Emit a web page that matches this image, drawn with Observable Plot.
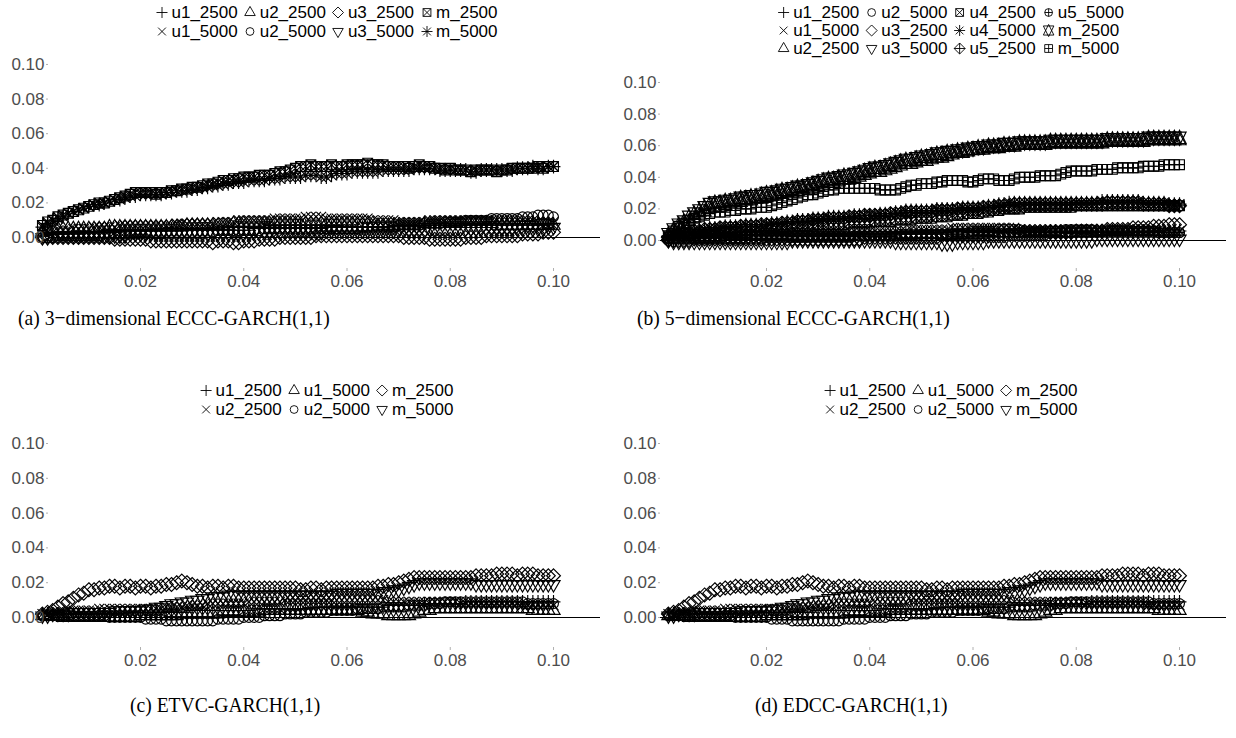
<!DOCTYPE html>
<html><head><meta charset="utf-8">
<script src="https://cdn.jsdelivr.net/npm/d3@7"></script>
<script src="https://cdn.jsdelivr.net/npm/@observablehq/plot@0.6"></script>
<style>
html,body{margin:0;padding:0;background:#fff}
#page{position:relative;width:1236px;height:738px;overflow:hidden;font-family:"Liberation Sans",Arial,sans-serif}
.legend{position:absolute;display:grid;grid-auto-flow:column;column-gap:5px;transform:translateX(-50%);font-size:17px;color:#000;white-space:nowrap}
.item{display:flex;align-items:center;gap:2px;line-height:1}
.item svg{display:block}
.cap{position:absolute;font-family:"Liberation Serif","Times New Roman",serif;font-size:22px;white-space:nowrap;line-height:1;color:#000;transform:scaleX(0.89);transform-origin:0 0}
</style></head><body><div id="page"></div>
<script>
// ---------- shared axis values ----------
const levels = [
.001,.002,.003,.004,.005,.006,.007,.008,.009,.010,
.011,.012,.013,.014,.015,.016,.017,.018,.019,.020,
.021,.022,.023,.024,.025,.026,.027,.028,.029,.030,
.031,.032,.033,.034,.035,.036,.037,.038,.039,.040,
.041,.042,.043,.044,.045,.046,.047,.048,.049,.050,
.051,.052,.053,.054,.055,.056,.057,.058,.059,.060,
.061,.062,.063,.064,.065,.066,.067,.068,.069,.070,
.071,.072,.073,.074,.075,.076,.077,.078,.079,.080,
.081,.082,.083,.084,.085,.086,.087,.088,.089,.090,
.091,.092,.093,.094,.095,.096,.097,.098,.099,.100];
const xTicks = [0.02, 0.04, 0.06, 0.08, 0.10];
const yTicks = [0.00, 0.02, 0.04, 0.06, 0.08, 0.10];

// ---------- panel (a): 3-dimensional ECCC-GARCH(1,1) ----------
const aNames = ["u1_2500","u1_5000","u2_2500","u2_5000","u3_2500","u3_5000","m_2500","m_5000"];
const a_u1_2500 = [
.001,.001,.002,.002,.002,.002,.003,.002,.003,.003,
.003,.003,.003,.004,.003,.004,.004,.004,.004,.004,
.004,.004,.005,.004,.005,.005,.005,.005,.005,.005,
.005,.005,.005,.006,.005,.006,.006,.006,.006,.006,
.006,.006,.006,.006,.007,.006,.007,.007,.007,.007,
.007,.007,.007,.007,.007,.007,.006,.007,.006,.006,
.006,.006,.006,.006,.006,.006,.006,.006,.007,.007,
.007,.007,.007,.007,.008,.007,.008,.008,.008,.008,
.008,.008,.008,.008,.008,.008,.008,.009,.008,.008,
.008,.008,.008,.008,.008,.009,.008,.008,.008,.008];
const a_u1_5000 = [
.002,.003,.003,.004,.004,.004,.005,.005,.005,.005,
.006,.006,.006,.006,.006,.007,.007,.007,.007,.007,
.007,.007,.007,.007,.007,.007,.008,.008,.008,.008,
.008,.008,.008,.008,.009,.009,.009,.009,.010,.010,
.010,.010,.010,.010,.010,.011,.011,.011,.011,.011,
.011,.012,.012,.012,.012,.011,.011,.011,.011,.011,
.011,.011,.011,.011,.010,.010,.010,.010,.010,.009,
.009,.009,.009,.009,.009,.010,.010,.010,.010,.010,
.010,.010,.010,.010,.010,.010,.010,.010,.010,.010,
.010,.010,.010,.010,.010,.010,.009,.009,.009,.009];
const a_u2_2500 = [
.003,.004,.005,.005,.005,.005,.005,.005,.005,.005,
.005,.005,.005,.006,.006,.006,.006,.006,.006,.006,
.006,.006,.006,.006,.006,.006,.006,.006,.007,.007,
.007,.007,.007,.007,.007,.007,.007,.008,.008,.008,
.008,.008,.008,.008,.008,.008,.008,.008,.008,.008,
.008,.008,.008,.008,.008,.008,.008,.008,.008,.008,
.008,.008,.008,.008,.008,.007,.007,.007,.007,.007,
.007,.007,.007,.007,.008,.008,.008,.008,.008,.008,
.008,.008,.008,.008,.008,.008,.008,.008,.007,.007,
.007,.007,.007,.007,.007,.007,.007,.007,.007,.007];
const a_u2_5000 = [
.000,.000,.000,.001,.001,.001,.001,.001,.001,.001,
.001,.001,.002,.002,.002,.002,.002,.002,.002,.002,
.002,.002,.002,.002,.003,.003,.003,.003,.003,.003,
.003,.003,.003,.003,.004,.004,.004,.004,.004,.004,
.004,.004,.004,.005,.005,.005,.005,.005,.005,.005,
.005,.005,.005,.005,.005,.005,.005,.005,.005,.005,
.005,.005,.006,.006,.006,.006,.006,.006,.006,.007,
.007,.007,.007,.007,.008,.008,.008,.008,.009,.009,
.009,.009,.010,.010,.010,.010,.010,.011,.011,.011,
.011,.011,.011,.012,.012,.012,.013,.013,.013,.012];
const a_u3_2500 = [
.000,.000,.000,.000,.000,.000,.000,.000,.000,.000,
.000,.000,.000,.000,-.001,-.001,-.001,-.001,-.001,-.001,
-.001,-.002,-.002,-.002,-.002,-.002,-.002,-.002,-.002,-.002,
-.002,-.002,-.002,-.003,-.002,-.002,-.002,-.003,-.003,-.002,
-.002,-.002,-.001,-.001,-.001,-.001,.000,.000,.000,.000,
.000,.000,.000,.001,.001,.001,.001,.001,.001,.001,
.001,.001,.001,.001,.001,.001,.001,.001,.001,.001,
.000,.000,.000,.000,.000,-.001,-.001,-.001,-.001,-.001,
-.001,-.001,.000,.000,.000,.000,.001,.001,.001,.001,
.001,.001,.001,.002,.002,.002,.002,.003,.003,.003];
const a_u3_5000 = [
.000,.000,.001,.001,.001,.001,.001,.001,.001,.001,
.001,.001,.001,.001,.001,.001,.001,.002,.002,.002,
.002,.002,.002,.002,.002,.002,.002,.002,.002,.002,
.002,.002,.002,.002,.002,.002,.002,.002,.002,.002,
.002,.003,.003,.003,.003,.003,.003,.003,.003,.003,
.003,.003,.003,.003,.003,.004,.004,.004,.004,.004,
.004,.004,.004,.004,.004,.004,.004,.004,.004,.004,
.004,.004,.004,.004,.004,.005,.005,.005,.005,.005,
.005,.005,.005,.005,.005,.005,.005,.005,.005,.005,
.005,.005,.005,.005,.005,.005,.005,.005,.006,.006];
const a_m_2500 = [
.007,.009,.010,.012,.013,.014,.015,.016,.017,.018,
.019,.020,.020,.021,.022,.023,.024,.025,.026,.026,
.026,.026,.025,.026,.026,.027,.027,.028,.028,.029,
.029,.030,.031,.031,.032,.033,.033,.034,.034,.035,
.035,.035,.036,.036,.036,.037,.038,.038,.039,.040,
.041,.041,.042,.041,.041,.041,.042,.041,.041,.042,
.042,.042,.042,.043,.042,.042,.042,.041,.041,.041,
.041,.040,.041,.042,.041,.041,.040,.040,.039,.040,
.039,.039,.039,.038,.039,.039,.039,.039,.038,.039,
.039,.040,.040,.040,.040,.040,.041,.040,.041,.041];
const a_m_5000 = [
.006,.008,.010,.011,.012,.014,.015,.016,.017,.018,
.019,.019,.020,.021,.022,.022,.023,.024,.024,.025,
.025,.025,.025,.025,.026,.026,.027,.027,.027,.028,
.028,.029,.029,.030,.030,.031,.031,.032,.032,.032,
.033,.033,.033,.033,.034,.034,.034,.035,.035,.035,
.035,.036,.036,.036,.035,.035,.036,.037,.037,.037,
.038,.038,.038,.038,.038,.038,.039,.039,.039,.039,
.039,.039,.040,.040,.040,.040,.040,.039,.039,.039,
.039,.039,.039,.038,.038,.039,.039,.039,.039,.039,
.039,.039,.040,.040,.040,.041,.040,.040,.041,.041];
const aValues = [a_u1_2500,a_u1_5000,a_u2_2500,a_u2_5000,a_u3_2500,a_u3_5000,a_m_2500,a_m_5000];

// ---------- panel (b): 5-dimensional ECCC-GARCH(1,1) ----------
const bNames = ["u1_2500","u1_5000","u2_2500","u2_5000","u3_2500","u3_5000","u4_2500","u4_5000","u5_2500","u5_5000","m_2500","m_5000"];
const b_u1_2500 = [
.000,.000,.001,.001,.001,.001,.002,.002,.002,.002,
.002,.002,.002,.002,.002,.002,.003,.003,.003,.003,
.003,.003,.003,.003,.003,.003,.003,.003,.004,.004,
.004,.004,.004,.004,.004,.004,.004,.004,.004,.004,
.004,.004,.004,.004,.005,.005,.005,.005,.005,.005,
.005,.005,.005,.005,.005,.006,.006,.006,.006,.006,
.006,.006,.006,.006,.006,.006,.006,.006,.006,.006,
.006,.006,.006,.006,.006,.006,.006,.006,.006,.006,
.006,.006,.006,.006,.006,.006,.006,.006,.006,.006,
.006,.006,.006,.006,.006,.006,.006,.006,.006,.006];
const b_u1_5000 = [
.002,.003,.003,.003,.004,.004,.004,.004,.004,.004,
.004,.004,.004,.004,.004,.005,.005,.005,.005,.005,
.005,.005,.005,.005,.005,.005,.005,.005,.005,.005,
.005,.005,.005,.005,.005,.006,.006,.006,.006,.006,
.006,.006,.006,.006,.006,.006,.006,.007,.007,.007,
.007,.007,.007,.007,.007,.008,.008,.008,.008,.008,
.008,.008,.008,.008,.008,.008,.008,.008,.007,.007,
.007,.007,.007,.007,.007,.007,.007,.007,.007,.007,
.007,.007,.007,.007,.007,.007,.007,.007,.007,.007,
.007,.007,.007,.007,.007,.007,.006,.006,.006,.006];
const b_u2_2500 = [
.003,.006,.008,.010,.012,.014,.016,.018,.020,.021,
.021,.022,.023,.023,.024,.025,.025,.026,.026,.027,
.028,.028,.029,.030,.030,.031,.032,.032,.033,.034,
.035,.036,.036,.037,.038,.038,.039,.040,.041,.042,
.043,.043,.044,.045,.046,.047,.048,.048,.049,.050,
.050,.051,.052,.052,.053,.054,.055,.055,.056,.057,
.057,.057,.058,.058,.058,.059,.059,.059,.060,.060,
.060,.060,.060,.060,.061,.061,.061,.061,.061,.061,
.061,.061,.061,.061,.061,.062,.062,.062,.062,.062,
.062,.062,.062,.063,.063,.063,.063,.063,.063,.063];
const b_u2_5000 = [
.000,.001,.001,.001,.001,.001,.001,.001,.001,.001,
.001,.001,.001,.001,.001,.001,.001,.001,.001,.002,
.002,.002,.002,.002,.002,.002,.002,.002,.002,.002,
.002,.002,.002,.002,.002,.002,.003,.003,.003,.003,
.003,.003,.003,.003,.003,.003,.003,.003,.003,.004,
.004,.004,.004,.004,.004,.005,.005,.005,.005,.006,
.006,.006,.006,.006,.007,.007,.007,.007,.007,.006,
.006,.006,.006,.006,.006,.006,.006,.007,.007,.007,
.007,.007,.007,.006,.006,.006,.006,.006,.006,.006,
.006,.006,.006,.006,.006,.005,.005,.005,.005,.005];
const b_u3_2500 = [
.000,.000,.000,.000,.000,.001,.001,.001,.001,.001,
.001,.001,.001,.001,.001,.001,.001,.001,.001,.001,
.001,.001,.001,.001,.001,.001,.001,.001,.001,.001,
.001,.001,.001,.001,.001,.001,.001,.001,.002,.002,
.002,.002,.002,.002,.002,.002,.002,.002,.002,.002,
.002,.002,.002,.003,.003,.003,.003,.003,.003,.003,
.003,.003,.003,.003,.003,.003,.004,.004,.004,.004,
.004,.004,.004,.004,.005,.005,.005,.005,.005,.006,
.006,.006,.006,.006,.006,.007,.007,.007,.007,.007,
.008,.008,.008,.008,.009,.009,.009,.010,.010,.010];
const b_u3_5000 = [
.000,-.001,-.001,-.001,-.001,-.001,-.001,-.001,-.001,-.001,
-.001,-.001,-.001,-.001,-.001,-.001,-.001,-.001,-.001,-.001,
-.001,-.001,-.001,-.001,.000,.000,.000,.000,.000,.000,
.000,.000,.000,.000,.000,.000,.000,.000,.000,.000,
.000,.000,.000,.000,-.001,-.001,-.001,-.001,-.001,-.001,
-.001,-.001,-.001,-.002,-.002,-.002,-.001,-.001,-.001,-.001,
-.001,-.001,.000,.000,.000,.000,.000,.000,.000,.000,
.000,.000,.000,.000,.000,.000,.000,.000,.000,.000,
.000,.000,.000,.001,.001,.001,.001,.001,.001,.001,
.001,.001,.001,.001,.001,.001,.001,.001,.001,.001];
const b_u4_2500 = [
.002,.003,.003,.004,.004,.004,.005,.005,.005,.005,
.006,.006,.006,.006,.007,.007,.007,.007,.007,.008,
.008,.008,.008,.008,.009,.009,.009,.009,.009,.010,
.010,.010,.010,.010,.010,.011,.011,.011,.011,.011,
.012,.012,.012,.012,.013,.013,.013,.013,.014,.014,
.014,.014,.015,.015,.015,.016,.016,.016,.017,.017,
.017,.018,.018,.019,.019,.020,.020,.020,.020,.021,
.021,.021,.021,.021,.021,.021,.021,.021,.021,.022,
.022,.022,.022,.022,.022,.022,.022,.022,.022,.022,
.022,.022,.022,.022,.022,.022,.022,.022,.022,.022];
const b_u4_5000 = [
.003,.004,.005,.005,.006,.006,.007,.007,.008,.008,
.008,.009,.009,.009,.009,.010,.010,.010,.010,.010,
.011,.011,.011,.012,.012,.013,.013,.013,.014,.014,
.014,.015,.015,.015,.015,.015,.016,.016,.016,.016,
.016,.017,.017,.017,.018,.018,.019,.019,.019,.019,
.019,.019,.020,.020,.020,.020,.020,.021,.021,.021,
.021,.021,.022,.022,.023,.023,.024,.024,.024,.024,
.024,.024,.024,.024,.024,.024,.024,.024,.024,.024,
.024,.024,.024,.024,.025,.025,.025,.025,.025,.025,
.025,.025,.024,.024,.024,.024,.024,.023,.023,.023];
const b_u5_2500 = [
.002,.004,.004,.005,.005,.006,.006,.007,.007,.007,
.008,.008,.008,.008,.009,.009,.009,.009,.010,.010,
.010,.010,.011,.011,.011,.012,.012,.012,.013,.013,
.013,.014,.014,.014,.014,.015,.015,.015,.016,.016,
.016,.016,.016,.017,.017,.017,.018,.018,.018,.018,
.018,.018,.019,.019,.019,.019,.020,.020,.020,.020,
.020,.021,.021,.021,.022,.022,.022,.023,.023,.023,
.023,.023,.023,.023,.023,.023,.023,.023,.023,.023,
.023,.023,.023,.023,.023,.024,.024,.024,.024,.024,
.024,.024,.023,.023,.023,.023,.023,.022,.022,.022];
const b_u5_5000 = [
.001,.001,.002,.002,.002,.002,.002,.002,.002,.002,
.002,.003,.003,.003,.003,.003,.003,.003,.003,.003,
.003,.003,.003,.003,.003,.003,.003,.003,.003,.003,
.003,.003,.003,.003,.003,.003,.003,.003,.003,.003,
.003,.003,.003,.003,.003,.004,.004,.004,.004,.004,
.004,.004,.004,.004,.004,.004,.004,.004,.005,.005,
.005,.005,.005,.005,.005,.005,.005,.005,.005,.005,
.005,.005,.005,.005,.005,.005,.005,.005,.005,.005,
.005,.005,.005,.005,.005,.005,.005,.005,.005,.005,
.005,.005,.005,.005,.005,.005,.005,.005,.005,.005];
const b_m_2500 = [
.004,.007,.010,.012,.015,.017,.019,.021,.023,.024,
.024,.025,.025,.026,.027,.027,.028,.028,.029,.030,
.030,.031,.032,.032,.033,.034,.034,.035,.036,.037,
.038,.039,.039,.040,.041,.041,.042,.043,.044,.045,
.046,.046,.047,.048,.049,.050,.051,.051,.052,.053,
.053,.054,.055,.055,.056,.056,.057,.057,.058,.058,
.059,.059,.060,.060,.060,.061,.061,.061,.062,.062,
.062,.062,.062,.062,.063,.063,.063,.063,.063,.063,
.063,.063,.063,.063,.063,.064,.064,.064,.064,.064,
.064,.064,.064,.065,.065,.065,.065,.065,.065,.065];
const b_m_5000 = [
.003,.006,.009,.011,.013,.014,.015,.016,.017,.018,
.018,.018,.019,.019,.020,.020,.020,.021,.021,.021,
.022,.023,.024,.025,.026,.027,.028,.029,.029,.030,
.031,.032,.032,.033,.033,.033,.033,.033,.033,.033,
.033,.032,.032,.032,.032,.033,.034,.035,.035,.036,
.036,.036,.037,.037,.038,.038,.038,.038,.037,.037,
.038,.039,.039,.039,.038,.038,.038,.039,.040,.040,
.040,.040,.041,.041,.041,.041,.042,.043,.044,.044,
.044,.044,.044,.045,.045,.045,.045,.046,.046,.046,
.046,.046,.047,.047,.047,.047,.048,.048,.048,.048];
const bValues = [b_u1_2500,b_u1_5000,b_u2_2500,b_u2_5000,b_u3_2500,b_u3_5000,b_u4_2500,b_u4_5000,b_u5_2500,b_u5_5000,b_m_2500,b_m_5000];

// ---------- panels (c) ETVC and (d) EDCC: identical values in the figure ----------
const cNames = ["u1_2500","u2_2500","u1_5000","u2_5000","m_2500","m_5000"];
const c_u1_2500 = [
.002,.002,.002,.002,.002,.002,.002,.002,.002,.002,
.002,.002,.002,.002,.002,.002,.002,.003,.003,.003,
.003,.003,.003,.003,.003,.003,.003,.003,.003,.004,
.004,.004,.004,.004,.004,.004,.004,.004,.004,.004,
.004,.005,.005,.005,.005,.005,.005,.005,.005,.005,
.005,.005,.005,.006,.006,.006,.006,.006,.006,.006,
.006,.006,.006,.006,.006,.006,.006,.007,.007,.007,
.007,.007,.007,.007,.008,.008,.008,.008,.008,.008,
.008,.008,.009,.009,.009,.009,.009,.009,.009,.009,
.009,.009,.009,.009,.009,.009,.009,.009,.009,.009];
const c_u2_2500 = [
.002,.002,.003,.003,.003,.004,.004,.004,.004,.004,
.004,.005,.005,.005,.005,.005,.005,.005,.005,.005,
.005,.005,.005,.005,.006,.006,.006,.006,.007,.007,
.007,.007,.008,.008,.008,.008,.008,.008,.008,.008,
.009,.009,.009,.009,.009,.009,.009,.010,.010,.010,
.010,.010,.010,.010,.010,.010,.010,.010,.010,.010,
.010,.010,.010,.010,.010,.010,.010,.009,.009,.009,
.009,.009,.009,.009,.009,.009,.009,.009,.009,.009,
.009,.008,.008,.008,.008,.008,.008,.008,.008,.008,
.008,.008,.008,.007,.007,.007,.007,.007,.007,.007];
const c_u1_5000 = [
.001,.001,.001,.001,.000,.000,.000,.000,.000,.000,
.000,.000,.000,.000,.000,.000,.000,.000,.000,.001,
.001,.001,.001,.001,.001,.001,.001,.002,.002,.002,
.002,.002,.002,.002,.002,.003,.003,.003,.003,.003,
.003,.003,.003,.004,.004,.004,.004,.004,.004,.004,
.004,.004,.004,.004,.004,.004,.004,.004,.004,.004,
.004,.004,.003,.003,.002,.002,.002,.001,.001,.001,
.001,.001,.002,.003,.004,.004,.005,.005,.005,.005,
.005,.005,.005,.005,.005,.005,.005,.005,.005,.005,
.005,.005,.005,.005,.005,.004,.004,.004,.004,.004];
const c_u2_5000 = [
.001,.001,.001,.001,.001,.001,.001,.001,.001,.001,
.001,.001,.001,.000,.000,.000,.000,.000,.000,.000,
-.001,-.001,-.001,-.001,-.002,-.002,-.002,-.002,-.002,-.002,
-.002,-.002,-.002,-.002,-.001,-.001,-.001,-.001,-.001,.000,
.000,.000,.000,.001,.001,.001,.001,.002,.002,.002,
.002,.003,.003,.003,.003,.003,.004,.004,.004,.004,
.004,.005,.005,.005,.005,.005,.006,.006,.006,.006,
.006,.007,.007,.007,.007,.008,.008,.008,.009,.009,
.009,.009,.009,.009,.009,.009,.009,.009,.009,.009,
.009,.009,.009,.009,.008,.008,.008,.008,.008,.008];
const c_m_2500 = [
.002,.003,.004,.006,.008,.009,.011,.013,.014,.016,
.016,.017,.017,.018,.018,.017,.018,.018,.017,.018,
.018,.017,.018,.018,.019,.019,.020,.021,.020,.019,
.018,.018,.017,.018,.018,.017,.018,.018,.017,.017,
.017,.017,.017,.017,.017,.017,.017,.017,.017,.017,
.016,.016,.017,.017,.016,.017,.017,.017,.017,.017,
.017,.017,.017,.017,.017,.018,.018,.019,.019,.020,
.021,.022,.023,.023,.023,.023,.023,.023,.023,.023,
.023,.023,.023,.023,.024,.024,.024,.024,.025,.025,
.025,.025,.024,.025,.025,.025,.024,.024,.024,.024];
const c_m_5000 = [
.001,.001,.002,.002,.002,.002,.003,.003,.003,.003,
.003,.003,.003,.003,.004,.004,.004,.004,.004,.004,
.005,.005,.006,.006,.007,.008,.008,.009,.009,.010,
.010,.011,.011,.012,.012,.012,.013,.013,.013,.013,
.013,.013,.013,.013,.013,.013,.013,.013,.013,.013,
.013,.013,.013,.013,.013,.013,.013,.014,.014,.014,
.014,.014,.014,.014,.014,.014,.015,.015,.016,.016,
.017,.018,.019,.020,.020,.020,.020,.020,.020,.020,
.020,.020,.020,.020,.019,.019,.019,.019,.019,.019,
.019,.019,.019,.019,.019,.019,.019,.019,.019,.019];
const cValues = [c_u1_2500,c_u2_2500,c_u1_5000,c_u2_5000,c_m_2500,c_m_5000];
const dNames = cNames;
const dValues = cValues;

// ---------- R-style open plotting symbols ----------
const S2 = Math.SQRT2, T0 = 1.5551, T1 = 1.3468, T2 = 0.7776;
const mk = (fn) => ({draw(ctx, size) { fn(ctx, Math.sqrt(size / Math.PI)); }});
const seg = (c, x0, y0, x1, y1) => { c.moveTo(x0, y0); c.lineTo(x1, y1); };
const sq = (c, R) => { c.moveTo(-R, -R); c.lineTo(R, -R); c.lineTo(R, R); c.lineTo(-R, R); c.closePath(); };
const pl = (c, a) => { seg(c, -a, 0, a, 0); seg(c, 0, -a, 0, a); };
const tx = (c, a) => { seg(c, -a, -a, a, a); seg(c, -a, a, a, -a); };
const ci = (c, R) => { c.moveTo(R, 0); c.arc(0, 0, R, 0, 2 * Math.PI); };
const di = (c, a) => { c.moveTo(0, -a); c.lineTo(a, 0); c.lineTo(0, a); c.lineTo(-a, 0); c.closePath(); };
const tri = (c, R, dir) => { const r = T0 * R, xc = T1 * R, yc = T2 * R; c.moveTo(0, -dir * r); c.lineTo(xc, dir * yc); c.lineTo(-xc, dir * yc); c.closePath(); };
const glyphs = {
  plus: mk((c, R) => pl(c, S2 * R)),
  times: mk((c, R) => tx(c, R)),
  triUp: mk((c, R) => tri(c, R, 1)),
  circle: mk((c, R) => ci(c, R)),
  diamond: mk((c, R) => di(c, S2 * R)),
  triDown: mk((c, R) => tri(c, R, -1)),
  squareX: mk((c, R) => { sq(c, R); tx(c, R); }),
  asterisk: mk((c, R) => { tx(c, R); pl(c, S2 * R); }),
  diamondPlus: mk((c, R) => { di(c, S2 * R); pl(c, S2 * R); }),
  circlePlus: mk((c, R) => { ci(c, R); pl(c, R); }),
  star6: mk((c, R) => { const r = T0 * R, xc = T1 * R, yc = 0.5 * (T2 * R + r);
    c.moveTo(0, -r); c.lineTo(xc, yc); c.lineTo(-xc, yc); c.closePath();
    c.moveTo(0, r); c.lineTo(xc, -yc); c.lineTo(-xc, -yc); c.closePath(); }),
  squarePlus: mk((c, R) => { sq(c, R); pl(c, R); })
};
const shapeOrder = ["plus","times","triUp","circle","diamond","triDown","squareX","asterisk","diamondPlus","circlePlus","star6","squarePlus"];

// ---------- layout ----------
const SYM_R = 4.9, LEG_R = 3.9;
const layout = {
  a: {left:0, top:44, width:610, height:250, mL:48, mR:10, mT:12, mB:26, x:[0.00218,0.1091], y:[-0.0179,0.1046], legX:326, legY:2.5, rows:2, rowH:19, capX:18, capY:307},
  b: {left:610, top:62, width:626, height:232, mL:50, mR:10, mT:12, mB:26, x:[-0.00053,0.1091], y:[-0.01772,0.10506], legX:950, legY:3, rows:3, rowH:18, capX:637, capY:307},
  c: {left:0, top:423, width:610, height:250, mL:48, mR:10, mT:12, mB:26, x:[0.00218,0.1091], y:[-0.01724,0.1046], legX:326, legY:380.5, rows:2, rowH:19, capX:130, capY:694},
  d: {left:610, top:423, width:626, height:250, mL:50, mR:10, mT:12, mB:26, x:[-0.00053,0.1091], y:[-0.01724,0.1046], legX:950, legY:380.5, rows:2, rowH:19, capX:755, capY:694}
};
const captions = {
  a: "(a) 3\u2212dimensional ECCC-GARCH(1,1)",
  b: "(b) 5\u2212dimensional ECCC-GARCH(1,1)",
  c: "(c) ETVC-GARCH(1,1)",
  d: "(d) EDCC-GARCH(1,1)"
};

const page = document.getElementById("page");
const fmt = d3.format(".2f");

function drawPanel(key, names, values) {
  const L = layout[key];
  const marks = [Plot.ruleY([0], {stroke: "#000", strokeWidth: 1.1})];
  values.forEach((vals, i) => {
    const rows = levels.map((lv, j) => ({x: lv, y: vals[j]}));
    marks.push(Plot.dot(rows, {x: "x", y: "y", r: SYM_R, symbol: glyphs[shapeOrder[i]], fill: "none", stroke: "#000", strokeWidth: 1.15}));
  });
  marks.push(Plot.axisX({ticks: xTicks, tickFormat: fmt, tickSize: 3, tickPadding: 3, stroke: "#b0b0b0", fill: "#4d4d4d", fontSize: 17, label: null}));
  marks.push(Plot.axisY({ticks: yTicks, tickFormat: fmt, tickSize: 2, tickPadding: 2, stroke: "#b0b0b0", fill: "#4d4d4d", fontSize: 17, label: null}));
  const svg = Plot.plot({
    width: L.width, height: L.height,
    marginLeft: L.mL, marginRight: L.mR, marginTop: L.mT, marginBottom: L.mB,
    x: {domain: L.x, label: null},
    y: {domain: L.y, label: null},
    style: {overflow: "visible", background: "transparent", fontFamily: "Liberation Sans, Arial, sans-serif"},
    marks
  });
  svg.style.position = "absolute";
  svg.style.left = L.left + "px";
  svg.style.top = L.top + "px";
  page.appendChild(svg);

  // legend
  const leg = document.createElement("div");
  leg.className = "legend";
  leg.style.gridTemplateRows = `repeat(${L.rows}, ${L.rowH}px)`;
  leg.style.left = L.legX + "px";
  leg.style.top = L.legY + "px";
  names.forEach((n, i) => {
    const p = d3.path();
    glyphs[shapeOrder[i]].draw(p, Math.PI * LEG_R * LEG_R);
    const item = document.createElement("div");
    item.className = "item";
    item.innerHTML = `<svg width="15" height="15" viewBox="-7.5 -7.5 15 15"><path d="${p}" fill="none" stroke="#000" stroke-width="0.9"/></svg><span>${n}</span>`;
    leg.appendChild(item);
  });
  page.appendChild(leg);

  // caption
  const cap = document.createElement("div");
  cap.className = "cap";
  cap.textContent = captions[key];
  cap.style.left = L.capX + "px";
  cap.style.top = L.capY + "px";
  page.appendChild(cap);
}

drawPanel("a", aNames, aValues);
drawPanel("b", bNames, bValues);
drawPanel("c", cNames, cValues);
drawPanel("d", dNames, dValues);
</script></body></html>
